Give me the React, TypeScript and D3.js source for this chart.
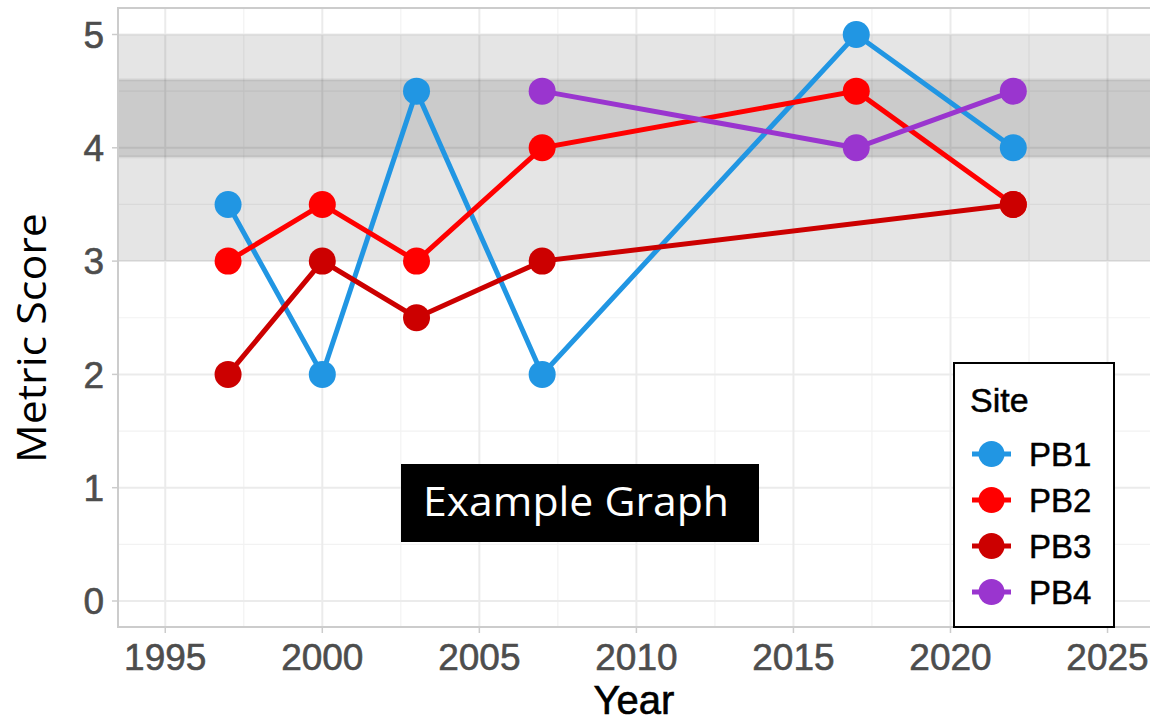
import * as d3 from 'd3'

const years = [1997, 2000, 2003, 2007, 2017, 2022]
const sites = ['PB1', 'PB2', 'PB3', 'PB4']
const pb1 = [3.5, 2, 4.5, 2, 5, 4]
const pb2 = [3, 3.5, 3, 4, 4.5, 3.5]
const pb3 = [2, 3, 2.5, 3, null, 3.5]
const pb4 = [null, null, null, 4.5, 4, 4.5]
const colors = ['#2196e3', '#ff0000', '#cc0000', '#9a35cf']

const xTicks = [1995, 2000, 2005, 2010, 2015, 2020, 2025]
const xMinor = [1997.5, 2002.5, 2007.5, 2012.5, 2017.5, 2022.5]
const yTicks = [0, 1, 2, 3, 4, 5]
const yMinor = [0.5, 1.5, 2.5, 3.5, 4.5]
const outerBand = [3, 5]
const innerBand = [3.92, 4.6]

const W = 1150
const H = 722
const panel = { left: 118, top: 8, right: 1152, bottom: 627 }

const x = d3.scaleLinear().domain([2000, 2022]).range([322.3, 1013.3])
const y = d3.scaleLinear().domain([0, 5]).range([601, 34.5])

const series = [pb1, pb2, pb3, pb4].map((vals, i) => ({
  name: sites[i],
  color: colors[i],
  pts: years
    .map((yr, j) => ({ yr, v: vals[j] }))
    .filter((d) => d.v !== null) as { yr: number; v: number }[],
}))

const line = d3
  .line<{ yr: number; v: number }>()
  .x((d) => x(d.yr))
  .y((d) => y(d.v))

const tickFont = '"Liberation Sans", Arial, sans-serif'

export default function App() {
  return (
    <svg
      width={W}
      height={H}
      style={{ position: 'absolute', left: 0, top: 0, background: '#fff' }}
    >
      <defs>
        <clipPath id="panel">
          <rect
            x={panel.left}
            y={panel.top}
            width={panel.right - panel.left}
            height={panel.bottom - panel.top}
          />
        </clipPath>
      </defs>
      <rect x={0} y={0} width={W} height={H} fill="#fff" />

      {/* grid */}
      <g clipPath="url(#panel)">
        {xMinor.map((t) => (
          <line key={'xm' + t} x1={x(t)} x2={x(t)} y1={panel.top} y2={panel.bottom} stroke="#f2f2f2" strokeWidth={1.2} />
        ))}
        {yMinor.map((t) => (
          <line key={'ym' + t} x1={panel.left} x2={panel.right} y1={y(t)} y2={y(t)} stroke="#f2f2f2" strokeWidth={1.2} />
        ))}
        {xTicks.map((t) => (
          <line key={'xg' + t} x1={x(t)} x2={x(t)} y1={panel.top} y2={panel.bottom} stroke="#ebebeb" strokeWidth={2} />
        ))}
        {yTicks.map((t) => (
          <line key={'yg' + t} x1={panel.left} x2={panel.right} y1={y(t)} y2={y(t)} stroke="#ebebeb" strokeWidth={2} />
        ))}

        {/* reference bands */}
        <rect
          x={panel.left}
          width={panel.right - panel.left}
          y={y(outerBand[1])}
          height={y(outerBand[0]) - y(outerBand[1])}
          fill="#000"
          fillOpacity={0.1}
        />
        <rect
          x={panel.left - 2}
          width={panel.right - panel.left + 4}
          y={y(innerBand[1])}
          height={y(innerBand[0]) - y(innerBand[1])}
          fill="#000"
          fillOpacity={0.11}
          stroke="#000"
          strokeOpacity={0.06}
          strokeWidth={3}
        />

        {/* lines */}
        {series.map((s) => (
          <path key={'l' + s.name} d={line(s.pts) ?? ''} fill="none" stroke={s.color} strokeWidth={5} />
        ))}
        {series.map((s) =>
          s.pts.map((p) => (
            <circle key={s.name + p.yr} cx={x(p.yr)} cy={y(p.v)} r={13.5} fill={s.color} />
          ))
        )}
      </g>

      {/* panel border */}
      <rect
        x={panel.left}
        y={panel.top}
        width={panel.right - panel.left}
        height={panel.bottom - panel.top}
        fill="none"
        stroke="#cccccc"
        strokeWidth={2}
      />

      {/* axes */}
      {yTicks.map((t) => (
        <g key={'yt' + t}>
          <line x1={panel.left - 6} x2={panel.left} y1={y(t)} y2={y(t)} stroke="#cccccc" strokeWidth={1.5} />
          <text
            x={104}
            y={y(t)}
            dy="0.36em"
            textAnchor="end"
            fontFamily={tickFont}
            fontSize={37}
            fill="#4d4d4d"
            stroke="#4d4d4d"
            strokeWidth={0.6}
          >
            {t}
          </text>
        </g>
      ))}
      {xTicks.map((t) => (
        <g key={'xt' + t}>
          <line x1={x(t)} x2={x(t)} y1={panel.bottom} y2={panel.bottom + 6} stroke="#cccccc" strokeWidth={1.5} />
          <text
            x={x(t)}
            y={670}
            textAnchor="middle"
            fontFamily={tickFont}
            fontSize={37}
            fill="#4d4d4d"
            stroke="#4d4d4d"
            strokeWidth={0.6}
          >
            {t}
          </text>
        </g>
      ))}
      <text
        x={634}
        y={714}
        textAnchor="middle"
        fontFamily={tickFont}
        fontSize={40}
        fill="#000"
        stroke="#000"
        strokeWidth={0.6}
      >
        Year
      </text>
      <text
        transform="translate(46, 338) rotate(-90)"
        textAnchor="middle"
        fontFamily='"Open Sans", sans-serif'
        fontSize={41}
        fill="#000"
        textLength={250}
        lengthAdjust="spacingAndGlyphs"
      >
        Metric Score
      </text>

      {/* legend */}
      <g>
        <rect x={954} y={363} width={160} height={264} fill="#fff" stroke="#000" strokeWidth={2} />
        <text x={970} y={412} fontFamily={tickFont} fontSize={34} fill="#000" stroke="#000" strokeWidth={0.5}>
          Site
        </text>
        {series.map((s, i) => {
          const cy = 454 + i * 46
          return (
            <g key={'lg' + s.name}>
              <line x1={972} x2={1011} y1={cy} y2={cy} stroke={s.color} strokeWidth={5} />
              <circle cx={991.5} cy={cy} r={13} fill={s.color} />
              <text
                x={1029}
                y={cy}
                dy="0.36em"
                fontFamily={tickFont}
                fontSize={33}
                fill="#000"
                stroke="#000"
                strokeWidth={0.5}
              >
                {s.name}
              </text>
            </g>
          )
        })}
      </g>

      {/* overlay label */}
      <rect x={401} y={464} width={358} height={78} fill="#000" />
      <text
        x={423}
        y={516}
        fontFamily='"Open Sans", sans-serif'
        fontSize={40}
        fill="#fff"
        textLength={306}
        lengthAdjust="spacingAndGlyphs"
      >
        Example Graph
      </text>
    </svg>
  )
}
